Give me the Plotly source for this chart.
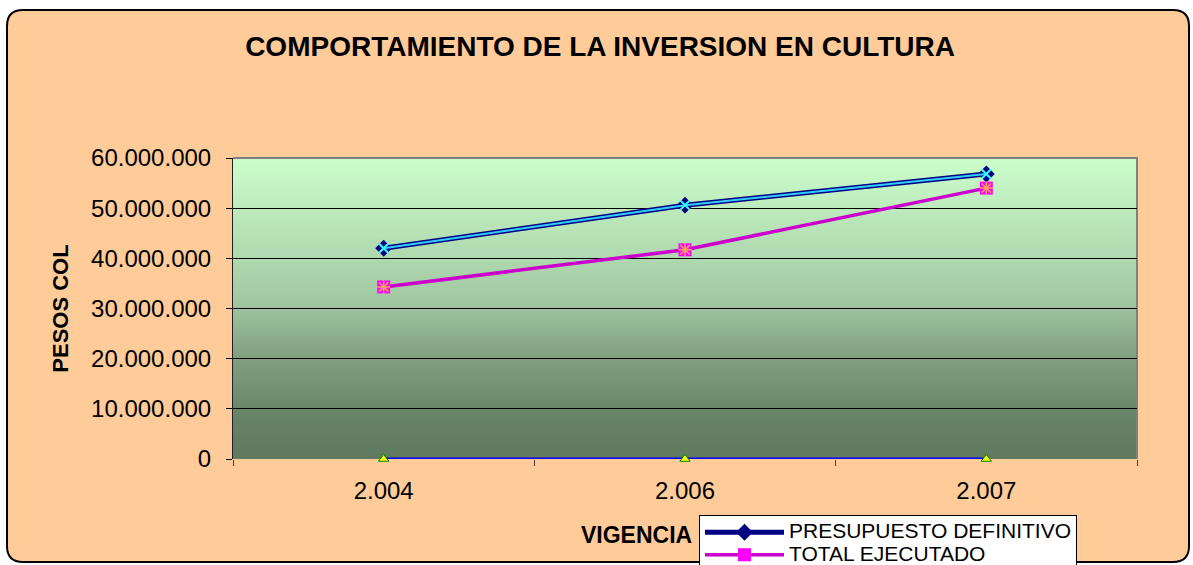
import plotly.graph_objects as go

W, H = 1193, 565

# ---- data ----
vigencias = ["2.004", "2.006", "2.007"]
presupuesto_definitivo = [42000000, 50600000, 56800000]
total_ejecutado = [34300000, 41700000, 54000000]
serie_cero = [0, 0, 0]
y_ticks = [0, 10000000, 20000000, 30000000, 40000000, 50000000, 60000000]
y_tick_labels = ["0", "10.000.000", "20.000.000", "30.000.000", "40.000.000", "50.000.000", "60.000.000"]
series_names = ["PRESUPUESTO DEFINITIVO", "TOTAL EJECUTADO"]
x_title = "VIGENCIA"

# ---- layout geometry (pixels) ----
PL, PR, PT, PB = 233, 1137, 158, 459

def px(x):
    return x / W

def py(y):
    return 1 - y / H

def legend_label(s):
    return f"<span style='font-size:21px'>{s}</span>"

fig = go.Figure()

# zero series (blue line with yellow markers)
fig.add_trace(go.Scatter(
    x=vigencias, y=serie_cero, mode="lines+markers",
    line=dict(color="#0000FF", width=3),
    marker=dict(symbol="triangle-up", size=9, color="#FFFF00", line=dict(color="#008000", width=1)),
    showlegend=False, cliponaxis=False, hoverinfo="skip"))

# PRESUPUESTO DEFINITIVO
fig.add_trace(go.Scatter(
    x=vigencias, y=presupuesto_definitivo, mode="lines+markers",
    name=legend_label(series_names[0]),
    line=dict(color="#000080", width=5),
    marker=dict(symbol="diamond", size=13, color="#000080")))
fig.add_trace(go.Scatter(
    x=vigencias, y=presupuesto_definitivo, mode="lines+markers",
    line=dict(color="#33CCFF", width=2),
    marker=dict(symbol="x-thin", size=9, line=dict(color="#33FFFF", width=2)),
    showlegend=False, hoverinfo="skip"))

# TOTAL EJECUTADO
fig.add_trace(go.Scatter(
    x=vigencias, y=total_ejecutado, mode="lines+markers",
    name=legend_label(series_names[1]),
    line=dict(color="#CC00CC", width=3.5),
    marker=dict(symbol="square", size=13, color="#FF00FF")))
fig.add_trace(go.Scatter(
    x=vigencias, y=total_ejecutado, mode="markers",
    marker=dict(symbol="asterisk-open", size=11, line=dict(color="#800080", width=1.5)),
    showlegend=False, hoverinfo="skip"))

shapes = []

# outer rounded rectangle (chart area)
x0, x1, y0, y1, r = 7, 1189, 10, 562, 16
rx, ry = r / W, r / H
path = (f"M {px(x0)+rx},{py(y0)} L {px(x1)-rx},{py(y0)} Q {px(x1)},{py(y0)} {px(x1)},{py(y0)-ry} "
        f"L {px(x1)},{py(y1)+ry} Q {px(x1)},{py(y1)} {px(x1)-rx},{py(y1)} "
        f"L {px(x0)+rx},{py(y1)} Q {px(x0)},{py(y1)} {px(x0)},{py(y1)+ry} "
        f"L {px(x0)},{py(y0)-ry} Q {px(x0)},{py(y0)} {px(x0)+rx},{py(y0)} Z")
shapes.append(dict(type="path", xref="paper", yref="paper", path=path,
                   fillcolor="#FFCC99", line=dict(color="black", width=2), layer="below"))

# plot area gradient
stops = [(0.0, (204, 255, 204)), (0.47, (163, 201, 163)), (0.67, (128, 160, 128)),
         (0.87, (102, 130, 102)), (1.0, (95, 122, 95))]

def col(t):
    for (t0, c0), (t1, c1) in zip(stops[:-1], stops[1:]):
        if t0 <= t <= t1:
            f = (t - t0) / (t1 - t0)
            return "rgb(%d,%d,%d)" % tuple(round(a + (b - a) * f) for a, b in zip(c0, c1))
    return "rgb(%d,%d,%d)" % stops[-1][1]

N = 100
for i in range(N):
    ya = PT + (PB - PT) * i / N
    yb = PT + (PB - PT) * (i + 1) / N
    shapes.append(dict(type="rect", xref="paper", yref="paper",
                       x0=px(PL), x1=px(PR), y0=py(yb), y1=min(py(ya) + 0.002, py(PT)),
                       fillcolor=col((i + 0.5) / N), line=dict(width=0), layer="below"))

# plot area border (gray top/right)
shapes.append(dict(type="path", xref="paper", yref="paper",
                   path=f"M {px(PL)},{py(PT)} L {px(PR)},{py(PT)} L {px(PR)},{py(PB)}",
                   line=dict(color="#808080", width=2), layer="below"))

fig.update_layout(
    width=W, height=H,
    margin=dict(l=0, r=0, t=0, b=0, pad=0, autoexpand=False),
    paper_bgcolor="white",
    plot_bgcolor="rgba(0,0,0,0)",
    shapes=shapes,
    font=dict(family="Liberation Sans, Arial, sans-serif", color="black"),
    title=dict(text="<b>COMPORTAMIENTO DE LA INVERSION EN CULTURA</b>",
               x=0.503, xanchor="center", y=py(46), yanchor="middle",
               font=dict(size=28, color="black"), automargin=False),
    xaxis=dict(domain=[px(PL), px(PR)], type="category", automargin=False,
               tickson="boundaries", ticks="outside", ticklen=6, tickcolor="#404040",
               showgrid=False, showline=False, zeroline=False,
               tickfont=dict(size=24), range=[-0.5, 2.5], ticklabelstandoff=15),
    yaxis=dict(domain=[py(PB), py(PT)], range=[0, 60000000], automargin=False,
               tickvals=y_ticks, ticktext=y_tick_labels,
               ticks="outside", ticklen=6, tickcolor="black", ticklabelstandoff=10,
               showgrid=True, gridcolor="black", gridwidth=1,
               showline=True, linecolor="#202020", linewidth=1, zeroline=False,
               tickfont=dict(size=24),
               title=dict(text="<b>PESOS COL</b>", font=dict(size=22), standoff=16)),
    annotations=[dict(text=f"<b>{x_title}</b>", xref="paper", yref="paper",
                      x=px(694), y=py(535), xanchor="right", yanchor="middle",
                      showarrow=False, font=dict(size=23, color="black"))],
    legend=dict(x=px(699), y=py(515), xanchor="left", yanchor="top",
                bgcolor="white", bordercolor="black", borderwidth=1,
                font=dict(size=15), tracegroupgap=0, itemwidth=79,
                orientation="v"),
)

fig.write_html("out.html", config={"displayModeBar": False},
               post_script="document.body.style.margin='0';document.body.style.overflow='hidden';")
